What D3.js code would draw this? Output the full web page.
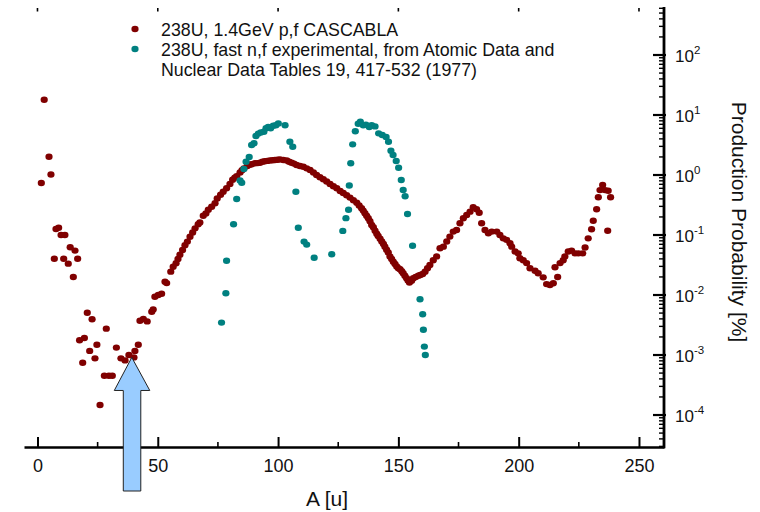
<html>
<head>
<meta charset="utf-8">
<script src="https://d3js.org/d3.v7.min.js"></script>
<style>
body { margin: 0; background: #fff; }
svg { display: block; font-family: "Liberation Sans", Arial, sans-serif; }
</style>
</head>
<body>
<svg id="chart" width="760" height="512"></svg>
<script>

// CASCABLA, 1.4 GeV p,f  (A, probability in %)
var redA = [1.6, 2.8, 4.8, 5.6, 7.0, 7.7, 8.8, 9.8, 10.9, 11.4, 12.8, 13.6, 14.9, 15.6, 16.7,
	17.5, 18.8, 19.5, 20.7, 21.7, 22.7, 23.9, 24.7, 26.0, 27.8, 28.6, 29.7, 31.1, 32.8, 34.7,
	36.4, 38.0, 40.1, 40.5, 41.9,
	42.6, 44.0, 45.6, 47.5, 48.1, 48.8, 50.2, 51.6, 53.0, 53.7, 55.4, 56.4, 57.6, 58.4, 59.2,
	60.3, 61.3, 62.3, 63.4, 64.5, 65.5, 66.8, 67.5, 68.9, 70.0, 71.0, 72.4, 73.8, 74.7, 76.1,
	77.2, 78.6, 80.0, 81.1, 82.0, 82.8, 84.2, 85.0, 85.8, 87.2, 88.2, 89.0, 90.4, 91.5, 92.5,
	93.5, 94.5, 95.5, 96.6, 97.7, 98.7, 99.8, 100.8, 102.2, 103.6, 104.6, 105.6, 106.6, 107.7, 109.1,
	110.5, 111.9, 113.3, 114.7, 116.0, 117.4, 118.8, 120.2, 121.6, 123.0, 124.4, 125.8, 127.1, 128.5, 129.9,
	131.3, 132.7, 133.7, 134.7, 135.4, 136.1, 136.8, 137.5, 138.2, 138.9, 139.6, 140.3, 141.0, 141.6, 142.4,
	143.1, 143.8, 144.4, 145.1, 145.8, 146.5, 147.2, 147.9, 148.6, 149.3, 150.0, 150.7, 151.4, 152.0, 152.7,
	153.4, 154.0, 154.6, 155.5, 156.2, 157.2, 158.3, 159.1, 160.1, 161.1, 162.1, 163.1, 164.5, 165.9, 167.3,
	168.7, 170.1, 171.4, 172.8, 174.2, 175.6, 177.0, 178.4, 179.8, 181.1, 182.5, 183.6, 184.6, 186.0, 187.4,
	188.8, 190.9, 192.2, 193.6, 195.0, 196.4, 197.1, 198.5, 199.8, 200.5, 201.9, 203.3, 204.7, 206.8, 208.1,
	210.2, 211.6, 213.0, 214.4, 215.1, 216.2, 217.2, 218.5, 219.2, 220.6, 222.0, 223.4, 224.8, 226.6, 227.6,
	228.9, 230.3, 231.0, 232.4, 233.1, 233.8, 234.9, 235.9, 237.2, 238.2, 237.0]
var redP = [0.736, 18, 2.02, 1.02, 0.0403, 0.126, 0.132, 0.1, 0.0403, 0.1, 0.0333, 0.0624, 0.02, 0.055, 0.0403,
	0.00176, 0.000745, 0.00192, 0.00507, 0.00117, 0.00394, 0.00088, 0.00148, 0.000147, 0.000452, 0.00275, 0.000452, 0.000452, 0.00133, 0.00088,
	0.000813, 0.001, 0.000912, 0.00117, 0.00148,
	0.00372, 0.00398, 0.00363, 0.00525, 0.00575, 0.00933, 0.01, 0.0105, 0.0166, 0.0158, 0.0245, 0.0295, 0.0339, 0.0398, 0.0468,
	0.0562, 0.0676, 0.0776, 0.0933, 0.110, 0.129, 0.151, 0.162, 0.209, 0.229, 0.263, 0.295, 0.339, 0.407, 0.468,
	0.525, 0.603, 0.708, 0.832, 0.902, 0.955, 1.10, 1.20, 1.29, 1.41, 1.48, 1.51, 1.57, 1.58, 1.60,
	1.66, 1.70, 1.72, 1.74, 1.76, 1.78, 1.80, 1.82, 1.78, 1.74, 1.66, 1.60, 1.55, 1.47, 1.41,
	1.37, 1.29, 1.21, 1.10, 1.00, 0.92, 0.85, 0.78, 0.71, 0.65, 0.60, 0.54, 0.50, 0.46, 0.42,
	0.38, 0.345, 0.31, 0.28, 0.255, 0.23, 0.21, 0.19, 0.17, 0.147, 0.135, 0.118, 0.105, 0.096, 0.087,
	0.078, 0.071, 0.064, 0.057, 0.051, 0.044, 0.040, 0.036, 0.033, 0.030, 0.028, 0.027, 0.025, 0.023, 0.021,
	0.019, 0.0175, 0.0162, 0.0173, 0.019, 0.020, 0.021, 0.0215, 0.0224, 0.0245, 0.028, 0.0316, 0.038, 0.044, 0.060,
	0.064, 0.078, 0.094, 0.114, 0.121, 0.157, 0.190, 0.215, 0.245, 0.29, 0.268, 0.235, 0.157, 0.121, 0.107,
	0.114, 0.114, 0.100, 0.088, 0.083, 0.073, 0.064, 0.053, 0.0495, 0.041, 0.038, 0.034, 0.028, 0.0254, 0.023,
	0.0197, 0.0152, 0.0147, 0.0157, 0.029, 0.020, 0.034, 0.038, 0.044, 0.053, 0.055, 0.0495, 0.0495, 0.0495, 0.062,
	0.088, 0.125, 0.173, 0.268, 0.425, 0.56, 0.68, 0.56, 0.547, 0.425, 0.118]

// fast n,f experimental
var tealA = [76.5, 78.3, 78.6, 81.5, 82.8, 84.2, 84.9, 85.8, 86.7, 88.0, 89.0, 90.0, 90.8, 91.8, 92.8,
	94.1, 95.0, 95.9, 96.9, 98.0, 99.1, 100.1, 102.9, 104.9, 106.1, 107.4, 108.4, 110.8, 111.9, 115.0,
	122.3, 126.9, 128.2, 129.3, 129.6, 130.2, 131.0, 132.1, 133.3, 134.2, 135.4, 136.5, 137.9, 138.9, 140.3,
	141.8, 143.3, 144.9, 145.9, 146.9, 147.8, 149.1, 150.1, 151.2, 152.0, 152.8, 153.8, 155.9, 159.0, 160.1,
	160.4, 160.8, 161.2]
var tealP = [0.00347, 0.0107, 0.0372, 0.151, 0.398, 0.813, 0.741, 1.26, 1.66, 2.0, 3.16, 3.39, 4.47, 4.9, 5.13,
	5.25, 6.03, 6.31, 6.03, 6.61, 6.76, 7.24, 6.76, 3.59, 2.95, 0.525, 0.132, 0.0776, 0.0692, 0.0417,
	0.0479, 0.117, 0.191, 0.263, 0.668, 1.57, 3.24, 5.37, 7.16, 7.73, 6.76, 6.92, 6.31, 6.76, 6.46,
	4.95, 4.65, 4.32, 3.59, 2.54, 2.15, 1.71, 1.32, 0.826, 0.562, 0.442, 0.224, 0.0664, 0.00851, 0.00479,
	0.00263, 0.00138, 0.001]

var xTicks = [0, 50, 100, 150, 200, 250]
var xMinor = [25, 75, 125, 175, 225]
var yExp = [-4, -3, -2, -1, 0, 1, 2]

var seriesNames = ["238U, 1.4GeV p,f CASCABLA", "238U, fast n,f experimental, from Atomic Data and"]
var legendExtra = "Nuclear Data Tables 19, 417-532 (1977)"
var colors = ["#800000", "#008080"]

// arrow annotation: points at A = 39
var arrowA = 39.2, arrowP = 0.00091

var svg = d3.select("#chart")

var x = d3.scaleLinear().domain([-5.6, 260.4]).range([24, 664])
var y = d3.scaleLog().domain([Math.pow(10, -4.533), Math.pow(10, 2.8)]).range([447, 7])

// bottom axis
var xAxis = svg.append("g")
	.attr("transform", "translate(0,447)")
	.call(d3.axisBottom(x).tickValues(xTicks).tickSizeInner(-10).tickSizeOuter(0).tickPadding(12))
xAxis.select(".domain").attr("stroke", "#000").attr("stroke-width", 2.6)
xAxis.selectAll(".tick line").attr("stroke", "#000").attr("stroke-width", 2)
xAxis.selectAll(".tick text").attr("font-size", 18).attr("fill", "#111")
	.attr("font-family", "Liberation Sans, Arial, sans-serif")

svg.append("g").selectAll("line")
	.data(xMinor)
	.enter().append("line")
	.attr("x1", d => x(d)).attr("x2", d => x(d))
	.attr("y1", 447).attr("y2", 442)
	.attr("stroke", "#000").attr("stroke-width", 1.6)

// top ticks only (frame cut off)
svg.append("g").selectAll("line")
	.data(xTicks)
	.enter().append("line")
	.attr("x1", d => x(d)).attr("x2", d => x(d))
	.attr("y1", 8).attr("y2", 11.5)
	.attr("stroke", "#000").attr("stroke-width", 1.6)

// right axis
var right = svg.append("g")
right.append("line")
	.attr("x1", 664).attr("x2", 664)
	.attr("y1", y.range()[1]).attr("y2", y.range()[0] + 1.3)
	.attr("stroke", "#000").attr("stroke-width", 2.8)

var minor = []
yExp.concat([-5]).forEach(function(e) {
	for (var m = 2; m < 10; m++) {
		var v = m * Math.pow(10, e)
		if (v > y.domain()[0] && v < y.domain()[1]) minor.push(v)
	}
})
right.selectAll(".minor")
	.data(minor)
	.enter().append("line")
	.attr("class", "minor")
	.attr("x1", 659).attr("x2", 664)
	.attr("y1", d => y(d)).attr("y2", d => y(d))
	.attr("stroke", "#000").attr("stroke-width", 1.4)

right.selectAll(".major")
	.data(yExp)
	.enter().append("line")
	.attr("class", "major")
	.attr("x1", 653).attr("x2", 666)
	.attr("y1", d => y(Math.pow(10, d))).attr("y2", d => y(Math.pow(10, d)))
	.attr("stroke", "#000").attr("stroke-width", 2.2)

var lab = right.selectAll(".lab")
	.data(yExp)
	.enter().append("text")
	.attr("class", "lab")
	.attr("x", 675)
	.attr("y", d => y(Math.pow(10, d)) + 7)
	.attr("font-size", 17)
	.attr("fill", "#111")
lab.append("tspan").text("10")
lab.append("tspan").attr("font-size", 11.5).attr("dy", -8).text(d => d)

// axis titles
svg.append("text")
	.attr("transform", "translate(732,222) rotate(90)")
	.attr("text-anchor", "middle")
	.attr("font-size", 21)
	.attr("fill", "#111")
	.text("Production Probability [%]")

svg.append("text")
	.attr("x", 327).attr("y", 506)
	.attr("text-anchor", "middle")
	.attr("font-size", 21)
	.attr("fill", "#111")
	.text("A [u]")

// points
var red = redA.map((a, i) => ({a: a, p: redP[i]}))
var teal = tealA.map((a, i) => ({a: a, p: tealP[i]}))

svg.append("g").selectAll("ellipse")
	.data(red)
	.enter().append("ellipse")
	.attr("cx", d => x(d.a)).attr("cy", d => y(d.p))
	.attr("rx", 3.6).attr("ry", 3.2)
	.attr("fill", colors[0])

svg.append("g").selectAll("ellipse")
	.data(teal)
	.enter().append("ellipse")
	.attr("cx", d => x(d.a)).attr("cy", d => y(d.p))
	.attr("rx", 3.6).attr("ry", 3.2)
	.attr("fill", colors[1])

// legend
var legend = svg.append("g")
legend.selectAll("ellipse")
	.data(seriesNames)
	.enter().append("ellipse")
	.attr("cx", 135).attr("cy", (d, i) => 29 + i * 20)
	.attr("rx", 3.6).attr("ry", 3.2)
	.attr("fill", (d, i) => colors[i])
legend.selectAll("text")
	.data(seriesNames.concat([legendExtra]))
	.enter().append("text")
	.attr("x", 161).attr("y", (d, i) => 35.5 + i * 20)
	.attr("font-size", 17.8)
	.attr("fill", "#111")
	.text(d => d)

// blue arrow
var tx = x(arrowA), ty = y(arrowP)
svg.append("path")
	.attr("d", "M" + tx + "," + ty +
		"L" + (tx + 18) + "," + (ty + 33) +
		"L" + (tx + 9) + "," + (ty + 33) +
		"L" + (tx + 9) + ",491" +
		"L" + (tx - 8.5) + ",491" +
		"L" + (tx - 8.5) + "," + (ty + 33) +
		"L" + (tx - 17.5) + "," + (ty + 33) + "Z")
	.attr("fill", "#99ccff")
	.attr("stroke", "#222")
	.attr("stroke-width", 1)

</script>
</body>
</html>
